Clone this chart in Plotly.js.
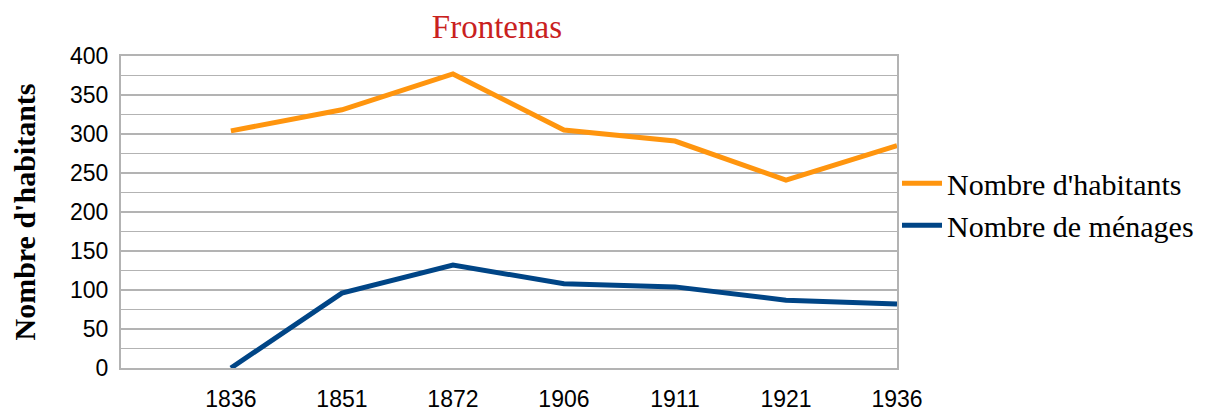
<!DOCTYPE html>
<html><head><meta charset="utf-8">
<script src="https://cdn.plot.ly/plotly-3.0.1.min.js"></script>
<style>html,body{margin:0;padding:0;background:#fff}</style>
</head><body>
<div id="chart" style="width:1221px;height:414px"></div>
<script>
const years = ['1836','1851','1872','1906','1911','1921','1936'];
const habitants = [304, 331, 377, 305, 291, 241, 285];
const menages = [0, 96, 132, 108, 104, 87, 82];
const idx = years.map((_, i) => i);

const traces = [
  {x: idx, y: habitants, type: 'scatter', mode: 'lines', name: "Nombre d'habitants",
   line: {color: '#ff950e', width: 5}},
  {x: idx, y: menages, type: 'scatter', mode: 'lines', name: 'Nombre de ménages',
   line: {color: '#004586', width: 5}}
];

const layout = {
  width: 1221, height: 414,
  margin: {l: 121, r: 324, t: 56, b: 46},
  paper_bgcolor: '#fff', plot_bgcolor: '#fff',
  title: {text: 'Frontenas', font: {family: 'Liberation Serif', size: 33, color: '#c9211e'},
          x: 0.407, xanchor: 'center', y: 0.935, yanchor: 'middle'},
  xaxis: {range: [-0.99, 6], tickvals: idx, ticktext: years, showgrid: false, zeroline: false,
          showline: true, linecolor: '#b3b3b3', linewidth: 2, mirror: true,
          ticks: '', ticklabelstandoff: 9,
          tickfont: {family: 'Liberation Sans, sans-serif', size: 23, color: '#000'}},
  yaxis: {range: [0, 400], dtick: 50, showgrid: true, gridcolor: '#b3b3b3', gridwidth: 1.5,
          minor: {dtick: 25, showgrid: true, gridcolor: '#b3b3b3', gridwidth: 1.5},
          zeroline: false, showline: true, linecolor: '#b3b3b3', linewidth: 2, mirror: true,
          ticks: '', ticklabelstandoff: 6,
          tickfont: {family: 'Liberation Sans, sans-serif', size: 23, color: '#000'},
          title: {text: "<b>Nombre d'habitants</b>", standoff: 26,
                  font: {family: 'Liberation Serif', size: 30, color: '#000'}}},
  showlegend: true,
  legend: {x: 1.0, xanchor: 'left', y: 0.525, yanchor: 'middle', bgcolor: 'rgba(0,0,0,0)',
           font: {family: 'Liberation Serif', size: 30, color: '#000'},
           itemwidth: 40, tracegroupgap: 0}
};

Plotly.newPlot('chart', traces, layout, {displayModeBar: false, staticPlot: true});
</script>
</body></html>
